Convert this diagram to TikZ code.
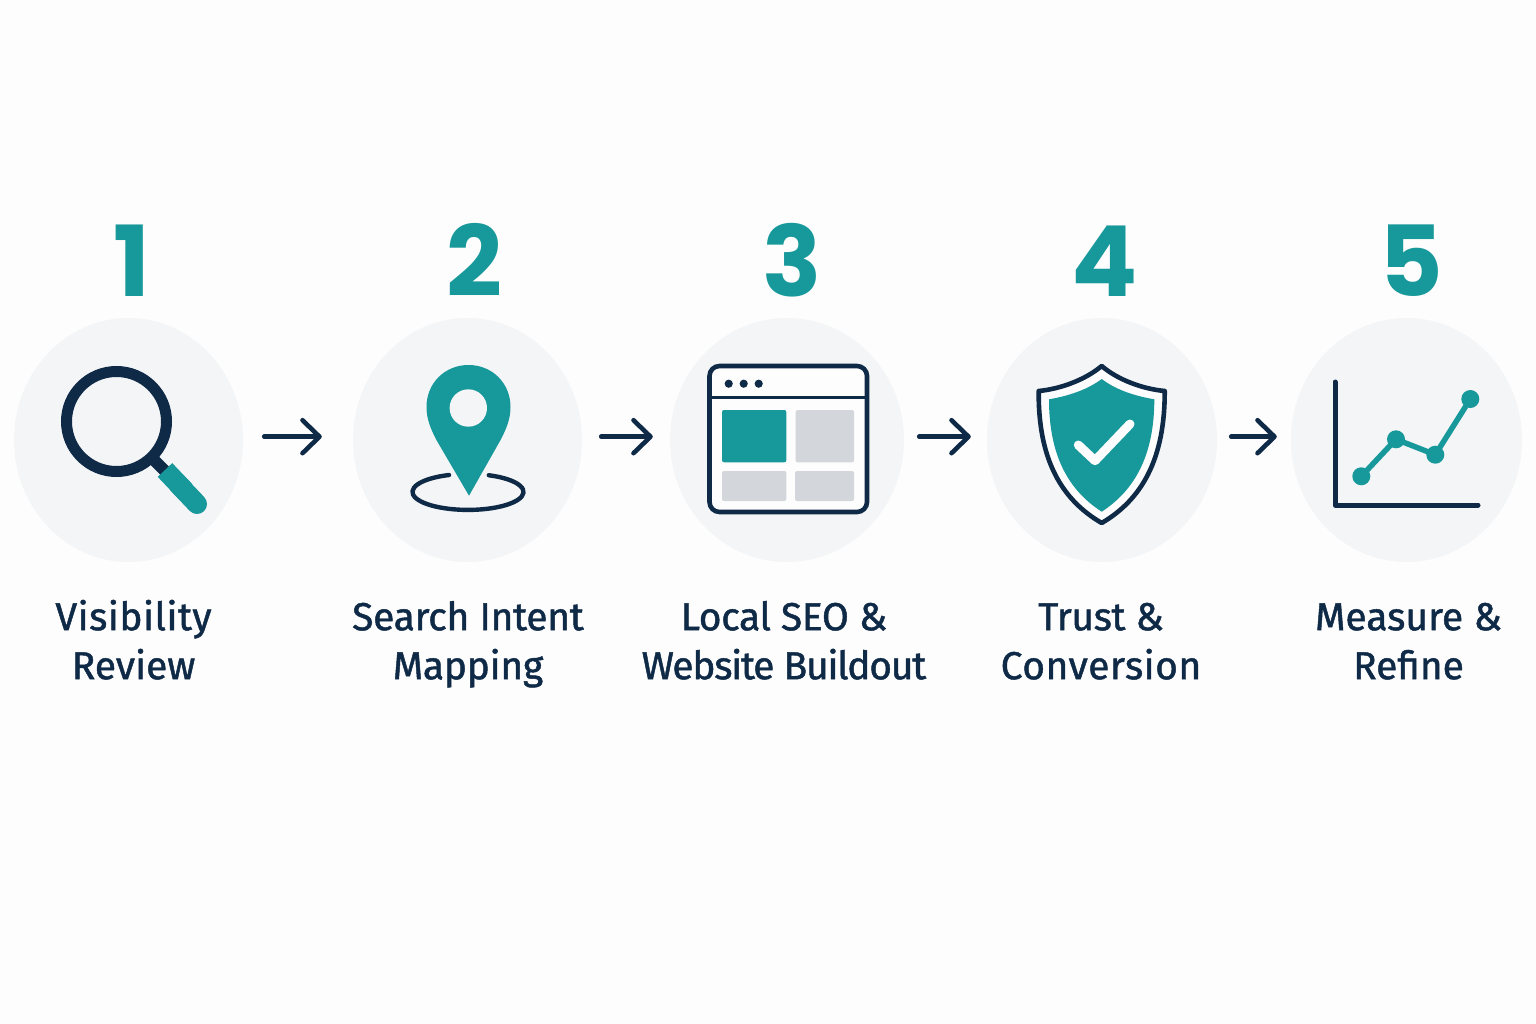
\documentclass[tikz,border=0pt]{standalone}
\usepackage{fontspec}
\usetikzlibrary{arrows.meta,shapes.geometric}
\setmainfont{Liberation Sans}
\newfontfamily\labfont[FakeBold=1.2]{Fira Sans}
\newfontfamily\numfont{Poppins}
\newcommand{\lsp}[2]{{\addfontfeature{LetterSpace=#1}#2}}
\newcommand{\toprl}{\rule{0pt}{36pt}}
\definecolor{bgc}{HTML}{FDFDFD}
\definecolor{disc}{HTML}{F4F5F7}
\definecolor{navy}{HTML}{0F2A47}
\definecolor{teal2}{HTML}{17989A}
\definecolor{gray2}{HTML}{D3D6DA}
\tikzset{
  disc/.style={ellipse,fill=disc,draw=none,inner sep=0pt},
  num/.style={anchor=base,text=teal2,inner sep=0pt,font=\numfont\bfseries\fontsize{98}{98}\selectfont},
  lab/.style={anchor=north,text=navy,inner sep=0pt,align=center,font=\labfont\fontsize{39}{49}\selectfont},
  flow/.style={draw=navy,line width=4.6pt,line cap=round,-{Straight Barb[length=17pt,width=33pt,round]}},
  ink/.style={draw=navy,line cap=round,line join=round},
}
\begin{document}
\begin{tikzpicture}[x=1pt,y=-1pt]
\useasboundingbox (0,0) rectangle (1536,1024);
\fill[bgc] (0,0) rectangle (1536,1024);
% discs
\node[disc,minimum width=229pt,minimum height=244pt] (c1) at (128.5,440) {};
\node[disc,minimum width=229pt,minimum height=244pt] (c2) at (467.5,440) {};
\node[disc,minimum width=234pt,minimum height=244pt] (c3) at (787,440) {};
\node[disc,minimum width=230pt,minimum height=244pt] (c4) at (1102,440) {};
\node[disc,minimum width=231pt,minimum height=244pt] (c5) at (1406.5,440) {};
% numbers
\node[num] (n1) at (132,296.7) {1};
\node[num] (n2) at (474.5,296.7) {2};
\node[num] (n3) at (792.5,296.7) {3};
\node[num] (n4) at (1105,296.7) {4};
\node[num] (n5) at (1411,296.7) {5};
% labels
\node[lab] (l1) at (133.5,594) {\toprl\lsp{1.3}{Visibility}\\Review};
\node[lab] (l2) at (468,594) {\toprl\lsp{-0.8}{Search Intent}\\\lsp{-0.7}{Mapping}};
\node[lab] (l3) at (784,594) {\toprl\lsp{-0.9}{Local SEO \&}\\\lsp{-3.2}{Website Buildout}};
\node[lab] (l4) at (1101,594) {\toprl\lsp{-1.1}{Trust \&}\\\lsp{1.3}{Conversion}};
\node[lab] (l5) at (1408.5,594) {\toprl Measure \&\\Refine};
% arrows
\draw[flow,shorten <=21pt,shorten >=31pt] ([yshift=3.3pt]c1.east) -- ([yshift=3.3pt]c2.west);
\draw[flow,shorten <=19pt,shorten >=17pt] ([yshift=3.3pt]c2.east) -- ([yshift=3.3pt]c3.west);
\draw[flow,shorten <=15pt,shorten >=16pt] ([yshift=3.3pt]c3.east) -- ([yshift=3.3pt]c4.west);
\draw[flow,shorten <=14pt,shorten >=14pt] ([yshift=3.3pt]c4.east) -- ([yshift=3.3pt]c5.west);
% magnifier
\draw[navy,line width=12pt] (152,458) -- (166,472);
\draw[navy,line width=11pt] (116.5,421.5) circle[radius=50pt];
\draw[teal2,line width=20pt] (165,470) -- (185,491);
\draw[teal2,line width=20pt,line cap=round] (178,484) -- (197,504);
% pin
\draw[ink,line width=4.4pt] (449,475) arc[start angle=110,end angle=428,x radius=55.5pt,y radius=18pt];
\fill[teal2] (469,495.7) -- (437,441) .. controls (430,428) and (426.5,418) .. (426.5,407)
  .. controls (426.5,383) and (445,365) .. (468.5,365)
  .. controls (492,365) and (510.5,383) .. (510.5,407)
  .. controls (510.5,418) and (507,428) .. (500,441) -- cycle;
\fill[disc] (468.3,408) circle[radius=18.7pt];
% browser window
\draw[draw=navy,line width=4.6pt,fill=bgc,rounded corners=10pt] (709.5,366) rectangle (867,512);
\draw[navy,line width=3.4pt] (709.5,397.7) -- (867,397.7);
\foreach \x in {728.7,743.7,758.7} \fill[navy] (\x,383.7) circle[radius=4.1pt];
\fill[teal2,rounded corners=2pt] (722,410) rectangle (786.3,462.3);
\fill[gray2,rounded corners=2pt] (795.7,410) rectangle (854,462.3);
\fill[gray2,rounded corners=2pt] (722,471) rectangle (786.3,501);
\fill[gray2,rounded corners=2pt] (795,471) rectangle (854,501);
% shield
\draw[ink,line width=4.6pt,fill=bgc] (1101.7,366) .. controls (1085,380) and (1060,389) .. (1038.7,391)
  .. controls (1038,460) and (1062,500) .. (1101.7,523)
  .. controls (1141,500) and (1165,460) .. (1164.7,391)
  .. controls (1143,389) and (1118,380) .. cycle;
\fill[teal2] (1101.7,379) .. controls (1087,390) and (1068,396) .. (1049,399.3)
  .. controls (1049,455) and (1068,490) .. (1101.7,511.7)
  .. controls (1135,490) and (1154.3,455) .. (1154.3,399.3)
  .. controls (1135,396) and (1116,390) .. cycle;
\draw[bgc,line width=9pt,line cap=round,line join=round] (1078.3,445) -- (1095,460.7) -- (1130,424);
% chart
\draw[ink,line width=5pt] (1335,382) -- (1335,505) -- (1478,505);
\draw[teal2,line width=5.5pt,line join=round] (1361.3,476.3) -- (1396,439.3) -- (1435.3,454.7) -- (1470.3,399);
\foreach \p in {(1361.3,476.3),(1396,439.3),(1435.3,454.7),(1470.3,399)} \fill[teal2] \p circle[radius=9pt];
\end{tikzpicture}
\end{document}
